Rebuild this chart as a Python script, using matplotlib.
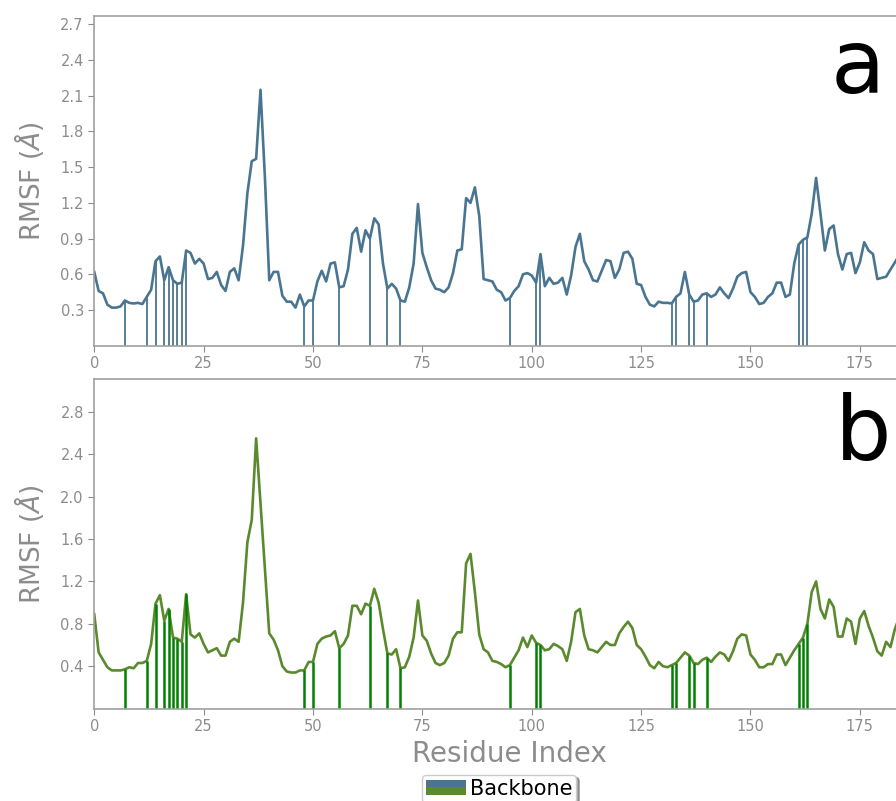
import numpy as np
import matplotlib
matplotlib.use("Agg")
import matplotlib.pyplot as plt
from matplotlib.patches import Rectangle
from matplotlib.legend_handler import HandlerBase

# RMSF per residue (panel a and panel b)
rmsf_a = [0.62, 0.46, 0.44, 0.345, 0.32, 0.32, 0.33, 0.38, 0.36, 0.355,
          0.36, 0.35, 0.41, 0.47, 0.71, 0.75, 0.55, 0.66, 0.55, 0.52,
          0.53, 0.80, 0.78, 0.69, 0.73, 0.69, 0.56, 0.57, 0.62, 0.51,
          0.46, 0.62, 0.65, 0.55, 0.84, 1.28, 1.55, 1.57, 2.15, 1.42,
          0.55, 0.62, 0.62, 0.42, 0.37, 0.37, 0.32, 0.43, 0.33, 0.38,
          0.38, 0.54, 0.63, 0.54, 0.69, 0.70, 0.49, 0.50, 0.64, 0.94,
          0.99, 0.79, 0.97, 0.90, 1.07, 1.02, 0.69, 0.48, 0.52, 0.48,
          0.38, 0.37, 0.49, 0.69, 1.19, 0.78, 0.66, 0.55, 0.48, 0.47,
          0.45, 0.49, 0.61, 0.80, 0.81, 1.24, 1.20, 1.33, 1.09, 0.56,
          0.55, 0.54, 0.47, 0.45, 0.38, 0.40, 0.46, 0.50, 0.60, 0.61,
          0.59, 0.53, 0.77, 0.50, 0.57, 0.52, 0.53, 0.57, 0.43, 0.59,
          0.83, 0.94, 0.71, 0.64, 0.55, 0.54, 0.63, 0.72, 0.71, 0.57,
          0.64, 0.78, 0.79, 0.73, 0.52, 0.51, 0.41, 0.345, 0.33, 0.37,
          0.36, 0.36, 0.355, 0.41, 0.44, 0.62, 0.43, 0.37, 0.38, 0.43,
          0.44, 0.41, 0.43, 0.49, 0.44, 0.40, 0.48, 0.58, 0.61, 0.62,
          0.45, 0.41, 0.35, 0.36, 0.41, 0.44, 0.53, 0.53, 0.41, 0.43,
          0.69, 0.85, 0.89, 0.91, 1.11, 1.41, 1.11, 0.80, 0.98, 1.01,
          0.77, 0.64, 0.77, 0.78, 0.61, 0.70, 0.87, 0.80, 0.77, 0.56,
          0.57, 0.58, 0.64, 0.70, 0.76, 0.80]

rmsf_b = [0.89, 0.53, 0.46, 0.39, 0.36, 0.36, 0.36, 0.37, 0.39, 0.38,
          0.43, 0.43, 0.45, 0.61, 0.99, 1.07, 0.83, 0.94, 0.67, 0.66,
          0.63, 1.08, 0.70, 0.67, 0.71, 0.61, 0.53, 0.55, 0.57, 0.50,
          0.50, 0.63, 0.66, 0.63, 1.00, 1.57, 1.78, 2.55, 1.94, 1.33,
          0.71, 0.65, 0.55, 0.40, 0.35, 0.34, 0.34, 0.36, 0.36, 0.44,
          0.44, 0.61, 0.66, 0.68, 0.69, 0.73, 0.57, 0.61, 0.69, 0.97,
          0.97, 0.89, 0.99, 0.97, 1.13, 1.00, 0.75, 0.52, 0.51, 0.56,
          0.38, 0.39, 0.49, 0.67, 1.02, 0.69, 0.64, 0.52, 0.43, 0.41,
          0.43, 0.50, 0.66, 0.72, 0.72, 1.37, 1.46, 1.10, 0.70, 0.56,
          0.53, 0.45, 0.44, 0.42, 0.39, 0.41, 0.48, 0.55, 0.67, 0.58,
          0.69, 0.62, 0.60, 0.55, 0.56, 0.61, 0.59, 0.56, 0.45, 0.63,
          0.91, 0.94, 0.69, 0.56, 0.55, 0.53, 0.58, 0.63, 0.60, 0.60,
          0.71, 0.77, 0.82, 0.76, 0.60, 0.56, 0.49, 0.41, 0.38, 0.44,
          0.40, 0.39, 0.41, 0.43, 0.48, 0.53, 0.50, 0.43, 0.42, 0.46,
          0.48, 0.44, 0.49, 0.53, 0.51, 0.45, 0.54, 0.66, 0.70, 0.69,
          0.51, 0.46, 0.39, 0.39, 0.42, 0.42, 0.51, 0.51, 0.41, 0.48,
          0.55, 0.61, 0.67, 0.80, 1.10, 1.20, 0.94, 0.85, 1.03, 0.96,
          0.68, 0.68, 0.85, 0.82, 0.61, 0.85, 0.92, 0.78, 0.67, 0.54,
          0.50, 0.63, 0.58, 0.75, 0.86, 0.90]

# residues marked with vertical lines
marked = [7, 12, 14, 16, 17, 18, 19, 20, 21, 48, 50, 56, 63, 67, 70,
          95, 101, 102, 132, 133, 136, 137, 140, 161, 162, 163]

xticks = [0, 25, 50, 75, 100, 125, 150, 175]
yticks_a = [0.3, 0.6, 0.9, 1.2, 1.5, 1.8, 2.1, 2.4, 2.7]
yticks_b = [0.4, 0.8, 1.2, 1.6, 2.0, 2.4, 2.8]

blue = '#4a7591'
olive = '#5b8a2e'
vgreen = '#008000'
gray = '#8c8c8c'

res = np.arange(len(rmsf_a))
ya = np.array(rmsf_a)
yb = np.array(rmsf_b)

fig = plt.figure(figsize=(8.96, 8.01), dpi=100)
# the original figure is wider than the picture: axes run past the right edge
ax = fig.add_axes([0.1052, 0.5684, 0.9277, 0.4116])
ax2 = fig.add_axes([0.1052, 0.1154, 0.9277, 0.4114])


def style(a, yt, ylim):
    a.set_xticks(xticks)
    a.set_yticks(yt)
    a.set_yticklabels(['%.1f' % v for v in yt])
    a.set_xlim(0, 190)
    a.set_ylim(0, ylim)
    for s in a.spines.values():
        s.set_color('#a0a0a0')
        s.set_linewidth(1.2)
    a.tick_params(colors=gray, labelsize=10.5, length=4, direction='out',
                  top=False, right=False)
    a.set_ylabel(r'RMSF ($\AA$)', fontsize=19, color=gray, labelpad=10)


ax.plot(res, ya, color=blue, lw=1.9)
ax.vlines(marked, 0, ya[marked], color=blue, lw=1.3)
style(ax, yticks_a, 2.77)

ax2.plot(res, yb, color=olive, lw=1.9)
ax2.vlines(marked, 0, yb[marked], color=vgreen, lw=1.8)
style(ax2, yticks_b, 3.11)
ax2.set_xlabel('Residue Index', fontsize=20, color=gray, labelpad=4)

fig.text(0.927, 0.884, 'a', fontsize=64, ha='left', va='baseline')
fig.text(0.932, 0.426, 'b', fontsize=64, ha='left', va='baseline')


class TwoColor(HandlerBase):
    def create_artists(self, legend, orig_handle, xdescent, ydescent,
                       width, height, fontsize, trans):
        top = Rectangle((-xdescent, -ydescent + height / 2), width, height / 2,
                        facecolor=blue, edgecolor='none', transform=trans)
        bot = Rectangle((-xdescent, -ydescent), width, height / 2,
                        facecolor=olive, edgecolor='none', transform=trans)
        return [top, bot]


h = Rectangle((0, 0), 1, 1)
fig.legend([h], ['Backbone'], handler_map={Rectangle: TwoColor()},
           loc='upper center', bbox_to_anchor=(0.557, 0.046),
           fontsize=15, shadow=True, fancybox=True, handlelength=1.9,
           handletextpad=0.2, borderpad=0.2, framealpha=1)

fig.savefig('out.png', dpi=100)
